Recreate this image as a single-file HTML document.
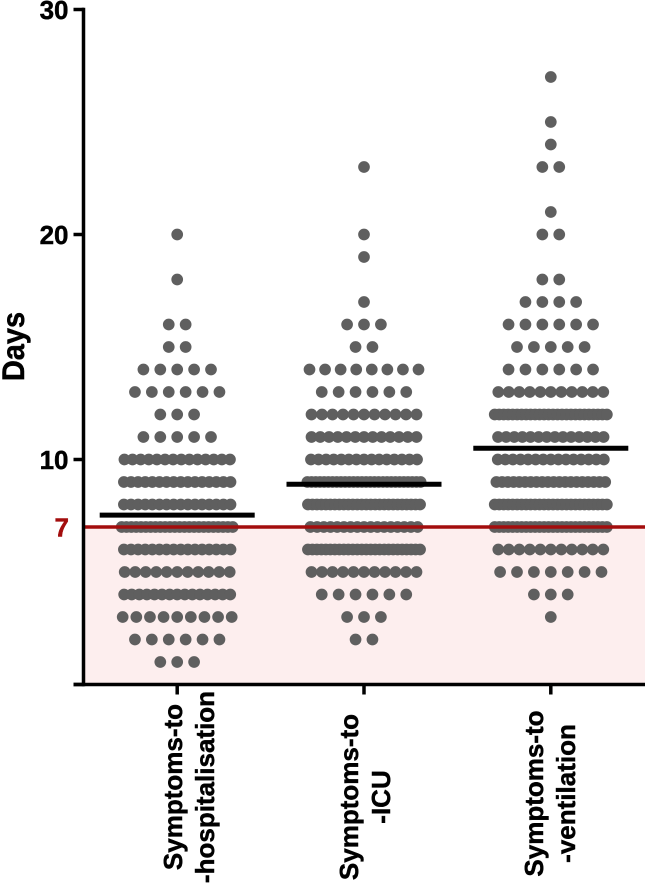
<!DOCTYPE html>
<html lang="en">
<head>
<meta charset="utf-8">
<title>Days from symptoms to hospitalisation, ICU and ventilation</title>
<style>
html,body{margin:0;padding:0;background:#fff;}
svg{display:block;}
text{font-family:"Liberation Sans",Arial,sans-serif;font-weight:bold;font-size:26px;fill:#000;stroke:#000;stroke-width:0.45px;}
</style>
</head>
<body>
<svg id="chart" xmlns="http://www.w3.org/2000/svg" width="645" height="888" viewBox="0 0 645 888">
  <g id="shade"></g>
  <g id="dots"></g>
  <g id="means"></g>
  <g id="threshold"></g>
  <g id="axes"></g>
  <text transform="translate(24,346.5) rotate(-90) scale(1,1.08)" text-anchor="middle" style="font-size:29px">Days</text>
</svg>
<script>
var categoryLines = [
  ['Symptoms-to', '-hospitalisation'],
  ['Symptoms-to', '-ICU'],
  ['Symptoms-to', '-ventilation']
];
var yTicks = [0, 10, 20, 30];
var yTickLabels = ['', '10', '20', '30'];
var thresholdDays = 7;
var means = [7.53, 8.9, 10.5];
var dayValues = [1,2,3,4,5,6,7,8,9,10,11,12,13,14,15,16,17,18,19,20,21,23,24,25,27];
var hospitalisationCounts = [3,6,9,15,11,16,24,16,16,14,5,3,6,5,2,2,0,1,0,1,0,0,0,0,0];
var icuCounts = [0,2,3,6,11,26,17,26,28,15,13,11,6,8,2,3,1,0,1,1,0,1,0,0,0];
var ventilationCounts = [0,0,1,3,7,11,26,26,20,15,14,26,11,6,5,6,4,2,0,2,1,2,1,1,1];
var seriesCounts = [hospitalisationCounts, icuCounts, ventilationCounts];
var seriesNames = ['hospitalisation', 'icu', 'ventilation'];
var labelBaselines = [182, 358, 543];
var labelCentres = [787, 797, 793.5];

var NS = 'http://www.w3.org/2000/svg';
function yScale(v) { return 684.5 - v * 22.5; }
function xScale(i) { return 177.2 + i * 186.8; }
function rowStep(n) {
  if (n < 2) return 0;
  if (n <= 7) return 16.9;
  if (n <= 10) return 109 / (n - 1);
  return (105 + 0.55 * Math.max(0, n - 13)) / (n - 1);
}
function make(tag, parentId) {
  var el = document.createElementNS(NS, tag);
  document.getElementById(parentId).appendChild(el);
  return el;
}
function lineAttrs(el, x1, y1, x2, y2, color, width) {
  el.setAttribute('x1', x1);
  el.setAttribute('y1', y1);
  el.setAttribute('x2', x2);
  el.setAttribute('y2', y2);
  el.setAttribute('stroke', color);
  el.setAttribute('stroke-width', width);
}

var shade = make('rect', 'shade');


shade.setAttribute('x', 84);
shade.setAttribute('y', yScale(thresholdDays));
shade.setAttribute('width', 561);
shade.setAttribute('height', yScale(0) - yScale(thresholdDays));
shade.setAttribute('fill', '#fdeeee');

seriesCounts.forEach(function (counts, s) {
  counts.forEach(function (n, r) {
    var step = rowStep(n);
    for (var k = 0; k < n; k++) {
      var c = make('circle', 'dots');
      
      
      c.setAttribute('cx', xScale(s) + (k - (n - 1) / 2) * step);
      c.setAttribute('cy', yScale(dayValues[r]));
      c.setAttribute('r', 5.85);
      c.setAttribute('fill', '#5f5f5f');
    }
  });
});

means.forEach(function (m, s) {
  var l = make('line', 'means');
  
  
  lineAttrs(l, xScale(s) - 77.5, yScale(m), xScale(s) + 77.5, yScale(m), '#000', 5);
});

var redLine = make('line', 'threshold');


lineAttrs(redLine, 84, yScale(thresholdDays), 645, yScale(thresholdDays), '#a30d0d', 3.5);

var redLabel = make('text', 'threshold');


redLabel.setAttribute('x', 69);
redLabel.setAttribute('y', yScale(thresholdDays) + 9.5);
redLabel.setAttribute('text-anchor', 'end');
redLabel.setAttribute('style', 'fill:#a30d0d;stroke:#a30d0d');
redLabel.textContent = String(thresholdDays);

var yAxis = make('line', 'axes');


lineAttrs(yAxis, 83.5, yScale(30) - 1.7, 83.5, yScale(0) + 1.7, '#000', 3.5);

var xAxis = make('line', 'axes');


lineAttrs(xAxis, 73.5, yScale(0), 645, yScale(0), '#000', 3.5);

yTicks.forEach(function (t, i) {
  var tick = make('line', 'axes');
  
  
  lineAttrs(tick, 73.5, yScale(t), 84, yScale(t), '#000', 3.5);
  if (yTickLabels[i]) {
    var lab = make('text', 'axes');
    
    
    lab.setAttribute('x', 68.5);
    lab.setAttribute('y', yScale(t) + 9.5);
    lab.setAttribute('text-anchor', 'end');
    lab.textContent = yTickLabels[i];
  }
});

categoryLines.forEach(function (lines, s) {
  var tick = make('line', 'axes');
  
  
  lineAttrs(tick, xScale(s), yScale(0), xScale(s), 694.5, '#000', 3.5);
  lines.forEach(function (txt, j) {
    var t = make('text', 'axes');
    
    
    var bx = labelBaselines[s] + j * 32;
    t.setAttribute('transform', 'translate(' + bx + ',' + labelCentres[s] + ') rotate(-90)');
    t.setAttribute('text-anchor', 'middle');
    t.textContent = txt;
  });
});
</script>
</body>
</html>
